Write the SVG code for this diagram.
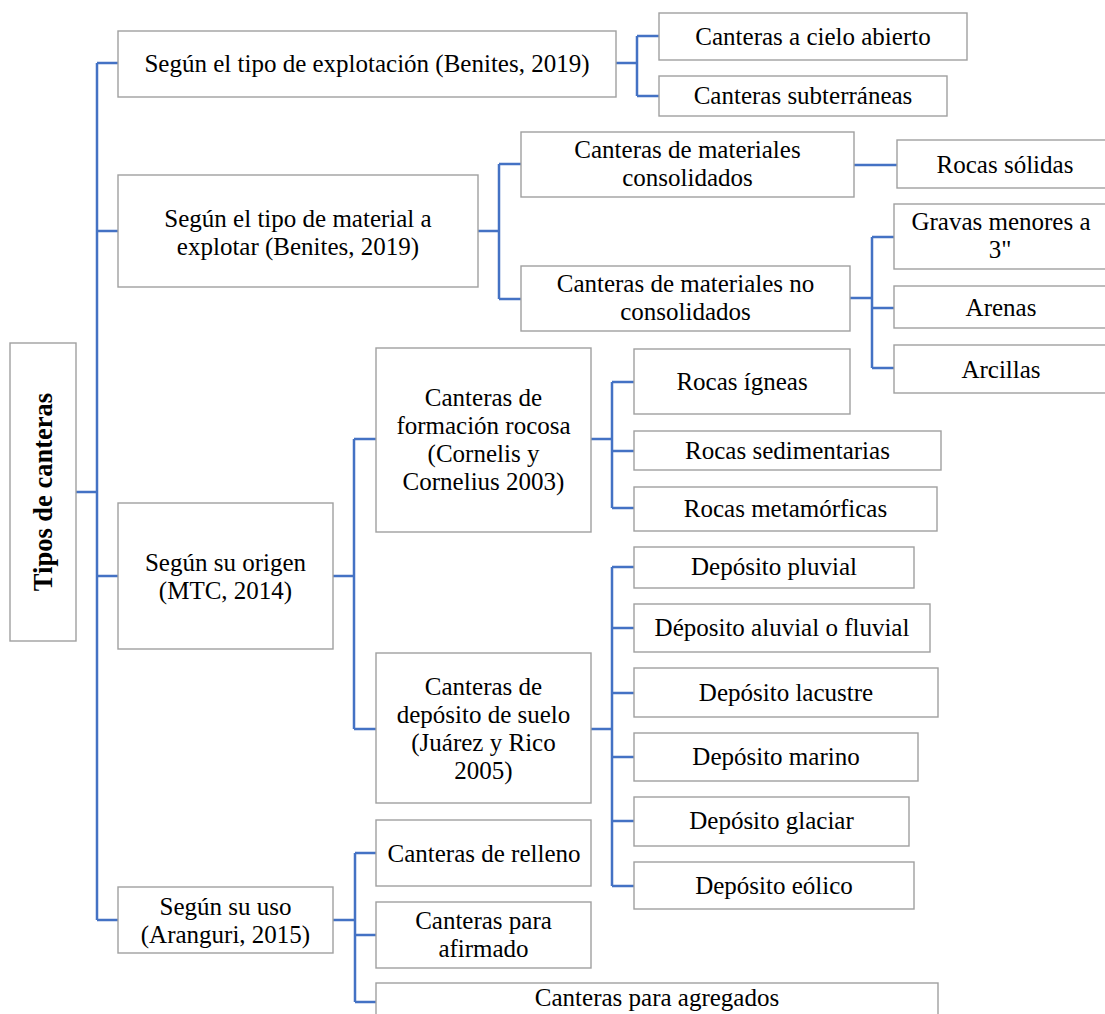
<svg xmlns="http://www.w3.org/2000/svg" width="1105" height="1014" viewBox="0 0 1105 1014">
  <style>
    .box { fill: #ffffff; stroke: #a0a0a0; stroke-width: 1.4; }
    .lbl { font-family: "Liberation Serif", "Times New Roman", serif; font-size: 25px; fill: #000000; text-anchor: middle; }
    .title { font-weight: bold; font-size: 26.5px; }
    .links path { fill: none; stroke: #4472c4; stroke-width: 2.5; }
  </style>
  <rect x="0" y="0" width="1105" height="1014" fill="#ffffff"/>

  <!-- connectors -->
  <g class="links" id="connectors">
    <path d="M76 492 H97 M97 63 V920 M97 63 H118 M97 231 H118 M97 576 H118 M97 920 H118"/>
    <path d="M616 63 H637 M637 36 V96 M637 36 H659 M637 96 H659"/>
    <path d="M478 231 H499 M499 164 V299 M499 164 H521 M499 299 H521"/>
    <path d="M854 165 H897"/>
    <path d="M850 298 H872 M872 237 V368 M872 237 H894 M872 308 H894 M872 368 H894"/>
    <path d="M333 576 H354 M354 439 V729 M354 439 H376 M354 729 H376"/>
    <path d="M591 439 H612 M612 382 V508 M612 382 H634 M612 451 H634 M612 508 H634"/>
    <path d="M591 729 H612 M612 567 V886 M612 567 H634 M612 628 H634 M612 693 H634 M612 757 H634 M612 821 H634 M612 886 H634"/>
    <path d="M333 920 H355 M355 853 V1002 M355 853 H376 M355 935 H376 M355 1002 H376"/>
  </g>

  <!-- root -->
  <g id="n-root">
    <rect class="box" x="10" y="343" width="66" height="298"/>
    <text class="lbl title" transform="translate(52,492) rotate(-90)">Tipos de canteras</text>
  </g>

  <!-- level 1 -->
  <g id="n-explotacion">
    <rect class="box" x="118" y="31" width="498" height="66"/>
    <text class="lbl" x="367" y="72">Según el tipo de explotación (Benites, 2019)</text>
  </g>
  <g id="n-material">
    <rect class="box" x="118" y="175" width="360" height="112"/>
    <text class="lbl" x="298" y="226.5">Según el tipo de material a</text>
    <text class="lbl" x="298" y="254.5">explotar (Benites, 2019)</text>
  </g>
  <g id="n-origen">
    <rect class="box" x="118" y="503" width="215" height="146"/>
    <text class="lbl" x="225.5" y="570.5">Según su origen</text>
    <text class="lbl" x="225.5" y="598.5">(MTC, 2014)</text>
  </g>
  <g id="n-uso">
    <rect class="box" x="118" y="887" width="215" height="66"/>
    <text class="lbl" x="225.5" y="914.5">Según su uso</text>
    <text class="lbl" x="225.5" y="942.5">(Aranguri, 2015)</text>
  </g>

  <!-- explotación -->
  <g id="n-cielo">
    <rect class="box" x="659" y="13" width="308" height="47"/>
    <text class="lbl" x="813" y="45">Canteras a cielo abierto</text>
  </g>
  <g id="n-subterraneas">
    <rect class="box" x="659" y="76" width="288" height="40"/>
    <text class="lbl" x="803" y="104">Canteras subterráneas</text>
  </g>

  <!-- material -->
  <g id="n-consolidados">
    <rect class="box" x="521" y="132" width="333" height="65"/>
    <text class="lbl" x="687.5" y="157.5">Canteras de materiales</text>
    <text class="lbl" x="687.5" y="185.5">consolidados</text>
  </g>
  <g id="n-noconsolidados">
    <rect class="box" x="521" y="266" width="329" height="65"/>
    <text class="lbl" x="685.5" y="291.5">Canteras de materiales no</text>
    <text class="lbl" x="685.5" y="319.5">consolidados</text>
  </g>
  <g id="n-rocas-solidas">
    <rect class="box" x="897" y="140" width="220" height="48"/>
    <text class="lbl" x="1005" y="173">Rocas sólidas</text>
  </g>
  <g id="n-gravas">
    <rect class="box" x="894" y="204" width="220" height="65"/>
    <text class="lbl" x="1001" y="229.5">Gravas menores a</text>
    <text class="lbl" x="1000" y="257.5">3"</text>
  </g>
  <g id="n-arenas">
    <rect class="box" x="894" y="286" width="220" height="42"/>
    <text class="lbl" x="1001" y="316">Arenas</text>
  </g>
  <g id="n-arcillas">
    <rect class="box" x="894" y="345" width="220" height="48"/>
    <text class="lbl" x="1001" y="378">Arcillas</text>
  </g>

  <!-- origen -->
  <g id="n-formacion">
    <rect class="box" x="376" y="348" width="215" height="184"/>
    <text class="lbl" x="483.5" y="406">Canteras de</text>
    <text class="lbl" x="483.5" y="434">formación rocosa</text>
    <text class="lbl" x="483.5" y="462">(Cornelis y</text>
    <text class="lbl" x="483.5" y="490">Cornelius 2003)</text>
  </g>
  <g id="n-suelo">
    <rect class="box" x="376" y="653" width="215" height="150"/>
    <text class="lbl" x="483.5" y="695">Canteras de</text>
    <text class="lbl" x="483.5" y="723">depósito de suelo</text>
    <text class="lbl" x="483.5" y="751">(Juárez y Rico</text>
    <text class="lbl" x="483.5" y="779">2005)</text>
  </g>
  <g id="n-igneas">
    <rect class="box" x="634" y="349" width="216" height="65"/>
    <text class="lbl" x="742" y="390">Rocas ígneas</text>
  </g>
  <g id="n-sedimentarias">
    <rect class="box" x="634" y="431" width="307" height="39"/>
    <text class="lbl" x="787.5" y="459">Rocas sedimentarias</text>
  </g>
  <g id="n-metamorficas">
    <rect class="box" x="634" y="487" width="303" height="44"/>
    <text class="lbl" x="785.5" y="517">Rocas metamórficas</text>
  </g>
  <g id="n-pluvial">
    <rect class="box" x="634" y="547" width="280" height="41"/>
    <text class="lbl" x="774" y="575">Depósito pluvial</text>
  </g>
  <g id="n-aluvial">
    <rect class="box" x="634" y="604" width="296" height="48"/>
    <text class="lbl" x="782" y="636">Déposito aluvial o fluvial</text>
  </g>
  <g id="n-lacustre">
    <rect class="box" x="634" y="668" width="304" height="49"/>
    <text class="lbl" x="786" y="701">Depósito lacustre</text>
  </g>
  <g id="n-marino">
    <rect class="box" x="634" y="733" width="284" height="48"/>
    <text class="lbl" x="776" y="765">Depósito marino</text>
  </g>
  <g id="n-glaciar">
    <rect class="box" x="634" y="797" width="275" height="49"/>
    <text class="lbl" x="771.5" y="829">Depósito glaciar</text>
  </g>
  <g id="n-eolico">
    <rect class="box" x="634" y="862" width="280" height="47"/>
    <text class="lbl" x="774" y="894">Depósito eólico</text>
  </g>

  <!-- uso -->
  <g id="n-relleno">
    <rect class="box" x="376" y="820" width="215" height="66"/>
    <text class="lbl" x="484" y="862">Canteras de relleno</text>
  </g>
  <g id="n-afirmado">
    <rect class="box" x="376" y="902" width="215" height="66"/>
    <text class="lbl" x="483.5" y="929">Canteras para</text>
    <text class="lbl" x="483.5" y="957">afirmado</text>
  </g>
  <g id="n-agregados">
    <rect class="box" x="376" y="983" width="562" height="40"/>
    <text class="lbl" x="657" y="1006">Canteras para agregados</text>
  </g>
</svg>
